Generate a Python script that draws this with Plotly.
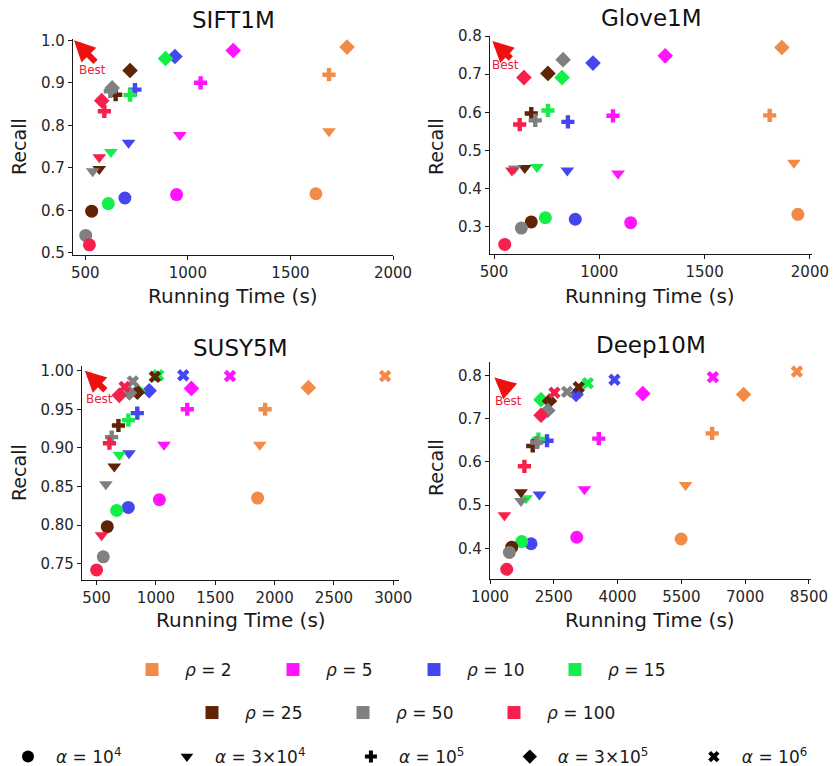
import plotly.graph_objects as go

# ---------------------------------------------------------------
# Recall vs. running time for four benchmarks.
# Rows follow RHO, columns follow ALPHA (1e4, 3e4, 1e5, 3e5, 1e6).
# ---------------------------------------------------------------
RHO = [2, 5, 10, 15, 25, 50, 100]
ALPHA_TEXT = ["10<sup>4</sup>", "3×10<sup>4</sup>", "10<sup>5</sup>",
              "3×10<sup>5</sup>", "10<sup>6</sup>"]
DATASETS = ["SIFT1M", "Glove1M", "SUSY5M", "Deep10M"]

SIFT_TIME = [
    [1624, 1688, 1688, 1776, None],
    [945, 961, 1062, 1221, None],
    [693, 711, 742, 937, None],
    [612, 625, 718, 891, None],
    [531, 568, 648, 718, None],
    [502, 536, 622, 631, None],
    [520, 568, 593, 580, None],
]
SIFT_RECALL = [
    [0.639, 0.786, 0.919, 0.984, None],
    [0.637, 0.777, 0.900, 0.976, None],
    [0.629, 0.759, 0.884, 0.962, None],
    [0.616, 0.737, 0.871, 0.957, None],
    [0.598, 0.697, 0.872, 0.929, None],
    [0.541, 0.692, 0.880, 0.888, None],
    [0.519, 0.725, 0.833, 0.858, None],
]

GLOVE_TIME = [
    [1943, 1924, 1809, 1867, None],
    [1149, 1089, 1065, 1313, None],
    [886, 848, 851, 970, None],
    [744, 704, 756, 823, None],
    [677, 646, 677, 756, None],
    [630, 598, 696, 828, None],
    [551, 585, 622, 642, None],
]
GLOVE_RECALL = [
    [0.333, 0.468, 0.592, 0.770, None],
    [0.311, 0.440, 0.591, 0.748, None],
    [0.320, 0.448, 0.575, 0.729, None],
    [0.324, 0.457, 0.605, 0.691, None],
    [0.313, 0.454, 0.597, 0.702, None],
    [0.297, 0.453, 0.579, 0.738, None],
    [0.254, 0.448, 0.568, 0.691, None],
]

SUSY_TIME = [
    [1857, 1875, 1920, 2284, 2931],
    [1029, 1068, 1264, 1299, 1624],
    [767, 773, 843, 943, 1230],
    [669, 691, 768, 850, 1019],
    [590, 649, 684, 843, 991],
    [556, 578, 627, 777, 806],
    [500, 542, 608, 691, 736],
]
SUSY_RECALL = [
    [0.835, 0.904, 0.950, 0.978, 0.993],
    [0.833, 0.904, 0.950, 0.977, 0.993],
    [0.823, 0.893, 0.945, 0.974, 0.994],
    [0.819, 0.891, 0.936, 0.973, 0.994],
    [0.798, 0.876, 0.929, 0.972, 0.992],
    [0.759, 0.853, 0.914, 0.971, 0.986],
    [0.742, 0.787, 0.906, 0.968, 0.979],
]

DEEP_TIME = [
    [5494, 5598, 6224, 6963, 8217],
    [3040, 3221, 3558, 4593, 6241],
    [1965, 2162, 2341, 3024, 3927],
    [1746, 1847, 2139, 2200, 3299],
    [1511, 1729, 2005, 2398, 3087],
    [1456, 1729, 2100, 2358, 2812],
    [1393, 1339, 1809, 2200, 2515],
]
DEEP_RECALL = [
    [0.422, 0.547, 0.666, 0.756, 0.809],
    [0.426, 0.537, 0.654, 0.758, 0.796],
    [0.411, 0.525, 0.649, 0.756, 0.790],
    [0.416, 0.516, 0.653, 0.744, 0.782],
    [0.403, 0.530, 0.637, 0.741, 0.773],
    [0.391, 0.510, 0.645, 0.719, 0.762],
    [0.352, 0.477, 0.590, 0.708, 0.760],
]

X_TICKS = [
    [500, 1000, 1500, 2000],
    [500, 1000, 1500, 2000],
    [500, 1000, 1500, 2000, 2500, 3000],
    [1000, 2500, 4000, 5500, 7000, 8500],
]
Y_TICKS = [
    [0.5, 0.6, 0.7, 0.8, 0.9, 1.0],
    [0.3, 0.4, 0.5, 0.6, 0.7, 0.8],
    [0.75, 0.80, 0.85, 0.90, 0.95, 1.00],
    [0.4, 0.5, 0.6, 0.7, 0.8],
]

# ---------------------------------------------------------------
# Styling
# ---------------------------------------------------------------
W, H = 833, 766
FONT = "DejaVu Sans"
RHO_COLORS = ["#F28B48", "#FF14FF", "#4646EE", "#14EE48",
              "#5E2405", "#808080", "#F5204C"]
ALPHA_SYMBOLS = ["circle", "triangle-down", "cross", "diamond", "x"]
ALPHA_SIZES = [13, 12, 11, 12, 11]

# panel geometry in pixels: (left, right, top, bottom)
PANEL_PX = [(73, 393, 39, 255), (490, 812, 36, 254),
            (82, 399, 366, 580), (490, 811, 362, 579)]
X_RANGES = [[440, 2000], [481, 2010], [377, 3048], [1000, 8548]]
Y_RANGES = [[0.495, 1.003], [0.229, 0.800], [0.729, 1.006], [0.3295, 0.831]]
Y_FORMAT = [".1f", ".1f", ".2f", ".1f"]

TIMES = [SIFT_TIME, GLOVE_TIME, SUSY_TIME, DEEP_TIME]
RECALLS = [SIFT_RECALL, GLOVE_RECALL, SUSY_RECALL, DEEP_RECALL]


def px_x(p):
    return p / W


def px_y(p):
    return 1 - p / H


fig = go.Figure()

for k in range(4):
    xa = "x" if k == 0 else f"x{k + 1}"
    ya = "y" if k == 0 else f"y{k + 1}"
    for r, rho in enumerate(RHO):
        xs, ys, syms, sizes = [], [], [], []
        for a in range(len(ALPHA_SYMBOLS)):
            t = TIMES[k][r][a]
            v = RECALLS[k][r][a]
            if t is None or v is None:
                continue
            xs.append(t)
            ys.append(v)
            syms.append(ALPHA_SYMBOLS[a])
            sizes.append(ALPHA_SIZES[a])
        fig.add_trace(go.Scatter(
            x=xs, y=ys, mode="markers", xaxis=xa, yaxis=ya,
            showlegend=False, hoverinfo="skip",
            marker=dict(color=RHO_COLORS[r], symbol=syms, size=sizes,
                        opacity=1, line=dict(width=0)),
        ))

# legend entries: colour swatches for rho, black glyphs for alpha
for r, rho in enumerate(RHO):
    fig.add_trace(go.Scatter(
        x=[None], y=[None], mode="markers",
        name=f"<i>ρ</i> = {rho}",
        legend="legend" if r < 4 else "legend2",
        marker=dict(color=RHO_COLORS[r], symbol="square", size=13,
                    opacity=1, line=dict(width=0)),
    ))
for a, txt in enumerate(ALPHA_TEXT):
    pad = "&nbsp;" * 6 if a < len(ALPHA_TEXT) - 1 else ""
    fig.add_trace(go.Scatter(
        x=[None], y=[None], mode="markers",
        name=f"<i>α</i> = {txt}" + pad,
        legend="legend3",
        marker=dict(color="black", symbol=ALPHA_SYMBOLS[a],
                    size=ALPHA_SIZES[a] - 1, opacity=1, line=dict(width=0)),
    ))

axis_common = dict(
    showline=True, linecolor="#1a1a1a", linewidth=1.3, mirror=False,
    ticks="outside", ticklen=4, tickwidth=1.2, tickcolor="#1a1a1a",
    showgrid=False, zeroline=False,
    tickfont=dict(family=FONT, size=15, color="#262626"),
)

layout = dict(
    width=W, height=H,
    margin=dict(l=0, r=0, t=0, b=0, autoexpand=False),
    paper_bgcolor="white", plot_bgcolor="white",
    font=dict(family=FONT, color="#1a1a1a"),
)

annotations = []
for k in range(4):
    left, right, top, bottom = PANEL_PX[k]
    xname = "xaxis" if k == 0 else f"xaxis{k + 1}"
    yname = "yaxis" if k == 0 else f"yaxis{k + 1}"
    xa = "x" if k == 0 else f"x{k + 1}"
    ya = "y" if k == 0 else f"y{k + 1}"
    layout[xname] = dict(axis_common, domain=[px_x(left), px_x(right)],
                         range=X_RANGES[k], tickvals=X_TICKS[k],
                         anchor=ya)
    layout[yname] = dict(axis_common, domain=[px_y(bottom), px_y(top)],
                         range=Y_RANGES[k], tickvals=Y_TICKS[k],
                         tickformat=Y_FORMAT[k], anchor=xa)

# titles and axis labels (pixel centres)
TITLE_POS = [(233, 20), (651, 18), (240, 348), (651, 345)]
XLABEL_POS = [(233, 296), (650, 296), (241, 620), (650, 620)]
YLABEL_POS = [(19, 147), (436, 147), (19, 473), (436, 468)]
for k in range(4):
    tx, ty = TITLE_POS[k]
    annotations.append(dict(
        text=DATASETS[k], x=px_x(tx), y=px_y(ty), xref="paper", yref="paper",
        xanchor="center", yanchor="middle", showarrow=False,
        font=dict(family=FONT, size=23, color="#111111")))
    lx, ly = XLABEL_POS[k]
    annotations.append(dict(
        text="Running Time (s)", x=px_x(lx), y=px_y(ly), xref="paper",
        yref="paper", xanchor="center", yanchor="middle", showarrow=False,
        font=dict(family=FONT, size=20, color="#1a1a1a")))
    rx, ry = YLABEL_POS[k]
    annotations.append(dict(
        text="Recall", x=px_x(rx), y=px_y(ry), xref="paper", yref="paper",
        xanchor="center", yanchor="middle", showarrow=False, textangle=-90,
        font=dict(family=FONT, size=19, color="#1a1a1a")))

# "Best" pointer in the upper-left corner of every panel
ARROW_TIP = [(445, 1.0), (492, 0.787), (401, 1.0), (1104, 0.795)]
ARROW_OFF = [(23, 23), (20, 19), (22, 21), (17, 15)]
BEST_POS = [(536, 0.931), (556, 0.723), (528, 0.963), (1433, 0.740)]
for k in range(4):
    xa = "x" if k == 0 else f"x{k + 1}"
    ya = "y" if k == 0 else f"y{k + 1}"
    annotations.append(dict(
        text="", x=ARROW_TIP[k][0], y=ARROW_TIP[k][1], xref=xa, yref=ya,
        ax=ARROW_OFF[k][0], ay=ARROW_OFF[k][1], showarrow=True,
        arrowhead=2, arrowsize=0.7, arrowwidth=6, arrowcolor="#EE1111"))
    annotations.append(dict(
        text="Best", x=BEST_POS[k][0], y=BEST_POS[k][1], xref=xa, yref=ya,
        xanchor="center", yanchor="middle", showarrow=False,
        font=dict(family=FONT, size=12, color="#E8203C")))

layout["annotations"] = annotations

legend_common = dict(
    orientation="h", xanchor="left", yanchor="middle",
    bgcolor="rgba(0,0,0,0)", borderwidth=0,
    font=dict(family=FONT, size=17, color="#1a1a1a"),
    xref="paper", yref="paper",
)
layout["legend"] = dict(legend_common, x=px_x(152 - 33), y=px_y(670),
                        itemwidth=56, entrywidth=70)
layout["legend2"] = dict(legend_common, x=px_x(212 - 33), y=px_y(713),
                         itemwidth=56, entrywidth=80)
layout["legend3"] = dict(legend_common, x=0, y=px_y(757),
                         itemwidth=46)

fig.update_layout(**layout)
fig.write_html("out.html")
